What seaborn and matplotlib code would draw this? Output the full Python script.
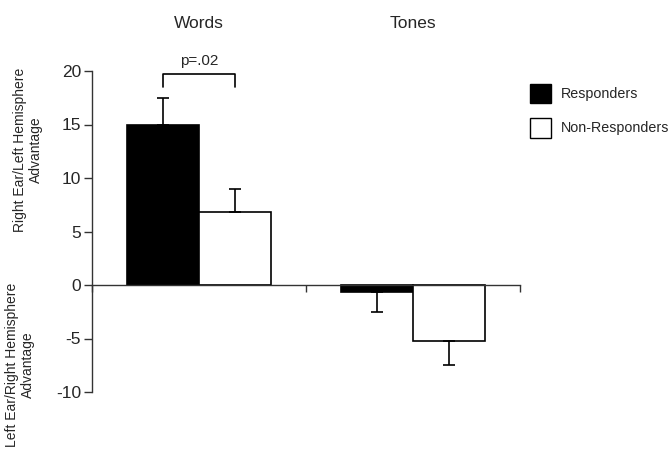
import pandas as pd
import numpy as np
import matplotlib
matplotlib.use("Agg")
import matplotlib.pyplot as plt
import seaborn as sns
from matplotlib.patches import Patch

# values
conditions = ["Words", "Tones"]
groups = ["Responders", "Non-Responders"]
responders = [15.0, -0.7]
non_responders = [6.8, -5.2]
resp_err = [2.5, 1.8]
nonresp_err = [2.2, 2.3]
p_label = "p=.02"

df = pd.DataFrame({
    "condition": conditions * 2,
    "group": [groups[0]] * 2 + [groups[1]] * 2,
    "value": responders + non_responders,
    "err": resp_err + nonresp_err,
})

sns.set_style("white")
plt.rcParams["font.family"] = ["Liberation Sans", "DejaVu Sans"]

fig = plt.figure(figsize=(6.7, 4.55), dpi=100)
ax = fig.add_axes([92 / 670, 1 - 392 / 455, 428 / 670, 321 / 455])

sns.barplot(data=df, x="condition", y="value", hue="group", order=conditions,
            hue_order=groups, palette={groups[0]: "black", groups[1]: "white"},
            edgecolor="black", linewidth=1.2, width=0.67, errorbar=None,
            legend=False, ax=ax)

# one-sided error bars (away from zero)
for cont, g in zip(ax.containers, groups):
    sub = df[df["group"] == g].set_index("condition").loc[conditions]
    for bar, v, e in zip(cont, sub["value"], sub["err"]):
        xc = bar.get_x() + bar.get_width() / 2
        lo = [0] if v >= 0 else [e]
        hi = [e] if v >= 0 else [0]
        ax.errorbar(xc, v, yerr=[lo, hi], fmt="none", ecolor="black",
                    elinewidth=1.2, capsize=4, capthick=1.2, clip_on=False)

# significance bracket
b0 = ax.containers[0][0]
b1 = ax.containers[1][0]
x0 = b0.get_x() + b0.get_width() / 2
x1 = b1.get_x() + b1.get_width() / 2
ax.plot([x0, x0, x1, x1], [18.5, 19.7, 19.7, 18.5], color="black", lw=1.2,
        clip_on=False)
ax.text((x0 + x1) / 2, 20.3, p_label, ha="center", va="bottom", fontsize=11,
        clip_on=False)

ax.set_xlim(-0.5, 1.5)
ax.set_ylim(-10, 20)
ax.set_yticks([-10, -5, 0, 5, 10, 15, 20])
ax.set_yticklabels(["-10", "-5", "0", "5", "10", "15", "20"], fontsize=12.5)
ax.set_xticks([-0.5, 0.5, 1.5])
ax.set_xticklabels([])
ax.tick_params(axis="y", direction="out", length=6, width=1, color="#333333",
               left=True, pad=2)
ax.tick_params(axis="x", direction="out", length=5, width=1, color="#333333",
               bottom=True)
for s in ["top", "right"]:
    ax.spines[s].set_visible(False)
ax.spines["bottom"].set_position(("data", 0))
for s in ["left", "bottom"]:
    ax.spines[s].set_color("#333333")
    ax.spines[s].set_linewidth(1)
ax.set_xlabel("")
ax.set_ylabel("")

# condition names above the plot
for i, c in enumerate(conditions):
    ax.text(i, 1.148, c, transform=ax.get_xaxis_transform(), ha="center",
            va="center", fontsize=12.5)

# two-part y label
fig.text(28 / 670, 1 - 150 / 455, "Right Ear/Left Hemisphere\nAdvantage",
         rotation=90, ha="center", va="center", fontsize=10,
         multialignment="center")
fig.text(20 / 670, 1 - 365 / 455, "Left Ear/Right Hemisphere\nAdvantage",
         rotation=90, ha="center", va="center", fontsize=10,
         multialignment="center")

handles = [Patch(facecolor="black", edgecolor="black", label=groups[0]),
           Patch(facecolor="white", edgecolor="black", label=groups[1])]
fig.legend(handles=handles, loc="upper left", bbox_to_anchor=(524 / 670, 1 - 78 / 455),
           frameon=False, fontsize=10.3, handlelength=1.5, handleheight=1.75,
           handletextpad=0.7, labelspacing=1.0, borderaxespad=0)

fig.savefig("out.png", dpi=100)
